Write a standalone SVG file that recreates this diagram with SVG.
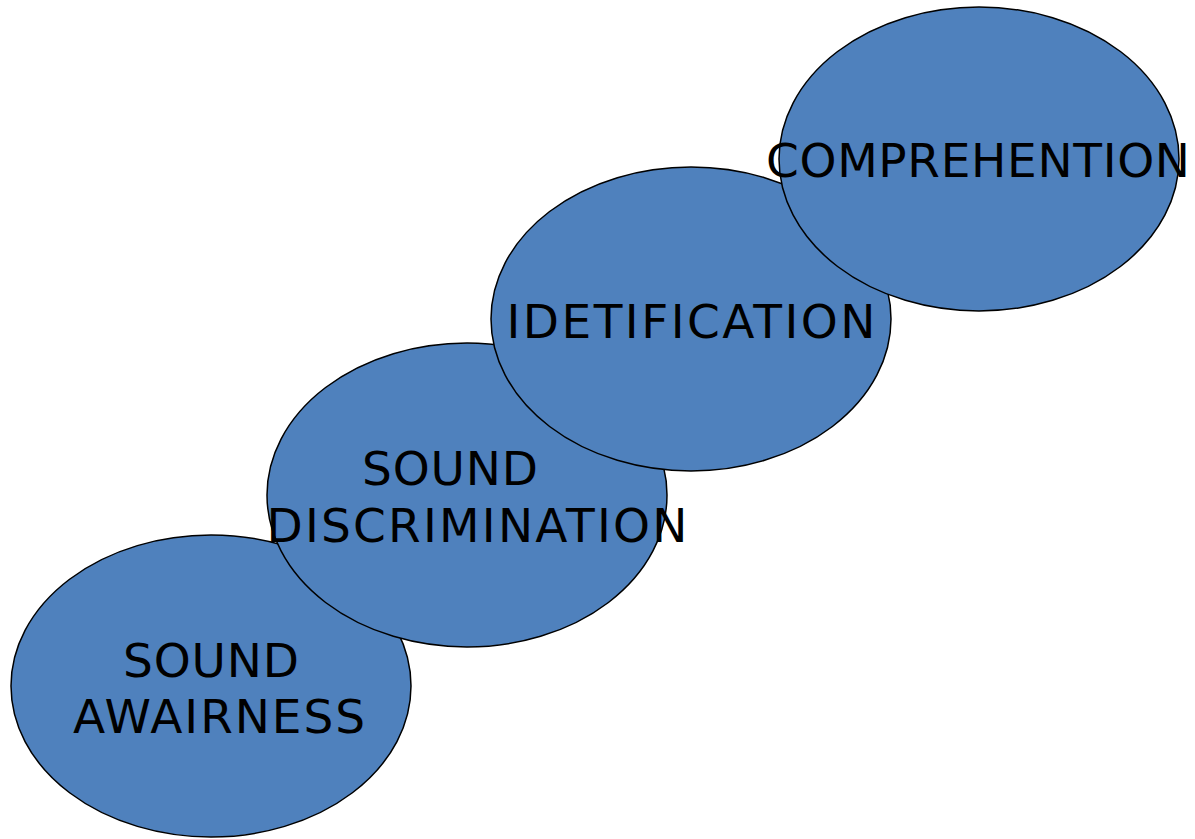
<svg xmlns="http://www.w3.org/2000/svg" width="1195" height="839" viewBox="0 0 1195 839">
<style>
.n{fill:#4F81BD;stroke:#000;stroke-width:1.5}
.t{font-family:"DejaVu Sans",Verdana,sans-serif;font-size:47px;fill:#000;text-anchor:middle}
</style>
<rect width="1195" height="839" fill="#fff"/>
<g id="awareness">
<ellipse class="n" cx="211" cy="686" rx="200" ry="151"/>
<text class="t" x="211" y="677" textLength="176" lengthAdjust="spacing">SOUND</text>
<text class="t" x="219" y="733" textLength="292" lengthAdjust="spacing">AWAIRNESS</text>
</g>
<g id="discrimination">
<ellipse class="n" cx="467" cy="495" rx="200" ry="152"/>
<text class="t" x="450" y="485" textLength="176" lengthAdjust="spacing">SOUND</text>
<text class="t" x="477" y="542" textLength="421" lengthAdjust="spacing">DISCRIMINATION</text>
</g>
<g id="identification">
<ellipse class="n" cx="691" cy="319" rx="200" ry="152"/>
<text class="t" x="691" y="338" textLength="369" lengthAdjust="spacing">IDETIFICATION</text>
</g>
<g id="comprehension">
<ellipse class="n" cx="979" cy="159" rx="200" ry="152"/>
<text class="t" x="978" y="177" textLength="424" lengthAdjust="spacing">COMPREHENTION</text>
</g>
<g id="connectors"/>
</svg>
